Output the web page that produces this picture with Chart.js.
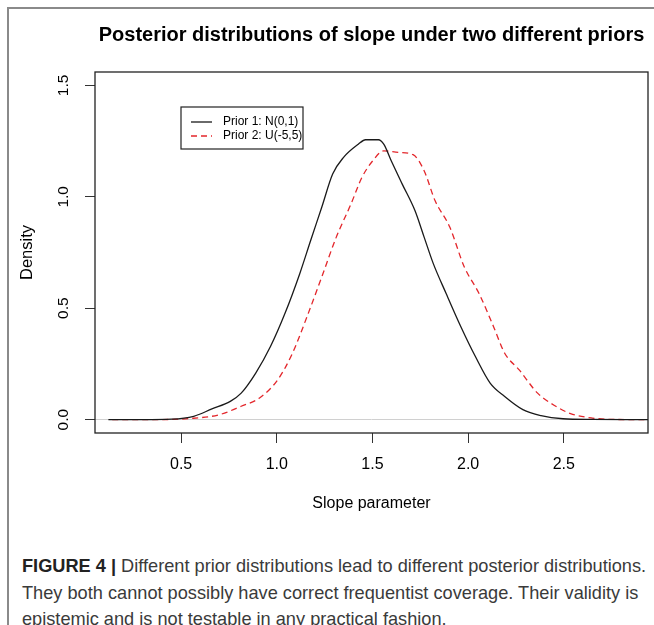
<!DOCTYPE html>
<html>
<head>
<meta charset="utf-8">
<script src="https://cdn.jsdelivr.net/npm/chart.js@4.4.1/dist/chart.umd.min.js"></script>
<style>
  html, body { margin: 0; padding: 0; background: #fff; }
  body { width: 654px; height: 625px; position: relative; overflow: hidden; }
  #frame { position: absolute; left: 7px; top: 7px; width: 660px; height: 640px;
           border-left: 2px solid #8a8a8a; border-top: 2px solid #8a8a8a; }
  #chart { position: absolute; left: 0; top: 0; }
  #caption { position: absolute; left: 22px; top: 553px; width: 640px;
             font-family: "Liberation Sans", Arial, sans-serif;
             font-size: 18.2px; line-height: 26.7px; color: #3a3a3a; white-space: nowrap; }
  #caption b { color: #222; }
</style>
</head>
<body>
<div id="frame"></div>
<canvas id="chart" width="654" height="520"></canvas>
<div id="caption"><b>FIGURE 4 |</b> Different prior distributions lead to different posterior distributions.<br>They both cannot possibly have correct frequentist coverage. Their validity is<br>epistemic and is not testable in any practical fashion.</div>

<script>
// posterior density
const slopeN = [0.12, 0.30, 0.45, 0.566, 0.661, 0.757, 0.814, 0.890, 0.967, 1.043, 1.120, 1.177, 1.235, 1.292,
  1.349, 1.426, 1.464, 1.531, 1.559, 1.598, 1.655, 1.722, 1.770, 1.818, 1.885, 1.962, 2.038, 2.115, 2.191,
  2.286, 2.381, 2.496, 2.65, 2.94];
const densN = [0, 0, 0.002, 0.015, 0.048, 0.082, 0.119, 0.209, 0.328, 0.477, 0.655, 0.804, 0.953, 1.102,
  1.177, 1.236, 1.256, 1.256, 1.236, 1.162, 1.058, 0.938, 0.819, 0.700, 0.566, 0.417, 0.283, 0.164, 0.104,
  0.045, 0.018, 0.004, 0.001, 0];

const slopeU = [0.14, 0.35, 0.546, 0.699, 0.814, 0.910, 1.005, 1.082, 1.158, 1.235, 1.311, 1.388, 1.445,
  1.502, 1.559, 1.636, 1.712, 1.770, 1.827, 1.904, 1.980, 2.057, 2.133, 2.191, 2.267, 2.363, 2.458, 2.535,
  2.649, 2.75, 2.94];
const densU = [0, 0, 0.005, 0.022, 0.060, 0.097, 0.179, 0.298, 0.462, 0.640, 0.819, 0.968, 1.087,
  1.162, 1.206, 1.199, 1.189, 1.117, 0.983, 0.864, 0.685, 0.566, 0.417, 0.298, 0.223, 0.119, 0.060, 0.027,
  0.007, 0.001, 0];

const xTicks = [0.5, 1.0, 1.5, 2.0, 2.5];
const yTicks = [0.0, 0.5, 1.0, 1.5];
const seriesLabels = ["Prior 1: N(0,1)", "Prior 2: U(-5,5)"];

const FONT = "'Liberation Sans', Arial, sans-serif";
const toPoints = (xs, ys) => xs.map((x, i) => ({ x, y: ys[i] }));

// R-style decorations: box, title, rotated y labels, axis titles, legend
const rDecor = {
  id: "rDecor",
  afterDraw(chart) {
    const { ctx, chartArea: a, scales } = chart;
    ctx.save();
    ctx.strokeStyle = "#222";
    ctx.lineWidth = 1.3;
    ctx.strokeRect(a.left, a.top, a.right - a.left, a.bottom - a.top);

    ctx.fillStyle = "#000";
    ctx.textAlign = "center";
    ctx.textBaseline = "middle";
    ctx.font = "bold 20px " + FONT;
    ctx.fillText("Posterior distributions of slope under two different priors", (a.left + a.right) / 2, 35);

    ctx.font = "16px " + FONT;
    ctx.fillText("Slope parameter", (a.left + a.right) / 2, 504);

    // rotated y tick labels
    ctx.font = "15.5px " + FONT;
    yTicks.forEach((v) => {
      const y = scales.y.getPixelForValue(v);
      ctx.save();
      ctx.translate(64, y);
      ctx.rotate(-Math.PI / 2);
      ctx.fillText(v.toFixed(1), 0, 0);
      ctx.restore();
    });
    ctx.font = "16.5px " + FONT;
    ctx.save();
    ctx.translate(27, (a.top + a.bottom) / 2);
    ctx.rotate(-Math.PI / 2);
    ctx.fillText("Density", 0, 0);
    ctx.restore();

    // legend
    const lx = 181, ly = 107, lw = 122, lh = 42;
    ctx.lineWidth = 1.2;
    ctx.strokeStyle = "#222";
    ctx.strokeRect(lx, ly, lw, lh);
    ctx.font = "12px " + FONT;
    ctx.textAlign = "left";
    chart.data.datasets.forEach((ds, i) => {
      const yy = ly + 15 + i * 14;
      ctx.beginPath();
      ctx.strokeStyle = ds.borderColor;
      ctx.lineWidth = ds.borderWidth;
      ctx.setLineDash(ds.borderDash || []);
      ctx.moveTo(191, yy);
      ctx.lineTo(212, yy);
      ctx.stroke();
      ctx.setLineDash([]);
      ctx.fillText(ds.label, 223, yy);
    });
    ctx.restore();
  }
};

new Chart(document.getElementById("chart"), {
  type: "line",
  data: {
    datasets: [
      {
        label: seriesLabels[0],
        data: toPoints(slopeN, densN),
        borderColor: "#1a1a1a",
        borderWidth: 1.3,
        pointRadius: 0,
        cubicInterpolationMode: "monotone",
        fill: false,
      },
      {
        label: seriesLabels[1],
        data: toPoints(slopeU, densU),
        borderColor: "#e3262b",
        borderWidth: 1.3,
        borderDash: [6, 4],
        pointRadius: 0,
        cubicInterpolationMode: "monotone",
        fill: false,
      },
    ],
  },
  options: {
    responsive: false,
    animation: false,
    layout: { padding: { top: 72, right: 6, left: 0, bottom: 0 } },
    plugins: { legend: { display: false }, tooltip: { enabled: false } },
    scales: {
      x: {
        type: "linear",
        min: 0.05,
        max: 2.94,
        afterBuildTicks: (s) => { s.ticks = xTicks.map((v) => ({ value: v })); },
        afterFit: (s) => { s.height = 87; },
        border: { display: false },
        grid: { drawOnChartArea: false, drawTicks: true, tickLength: 10, tickColor: "#333" },
        ticks: {
          color: "#000",
          padding: 12,
          maxRotation: 0,
          font: { family: FONT, size: 16 },
          callback: (v) => Number(v).toFixed(1),
        },
      },
      y: {
        type: "linear",
        min: -0.06,
        max: 1.56,
        afterBuildTicks: (s) => { s.ticks = yTicks.map((v) => ({ value: v })); },
        afterFit: (s) => { s.width = 95; },
        border: { display: false },
        grid: {
          drawTicks: true,
          tickLength: 10,
          tickColor: "#333",
          color: (c) => (c.tick && c.tick.value === 0 ? "#d0d0d0" : "rgba(0,0,0,0)"),
        },
        ticks: { display: false },
      },
    },
  },
  plugins: [rDecor],
});
</script>
</body>
</html>
